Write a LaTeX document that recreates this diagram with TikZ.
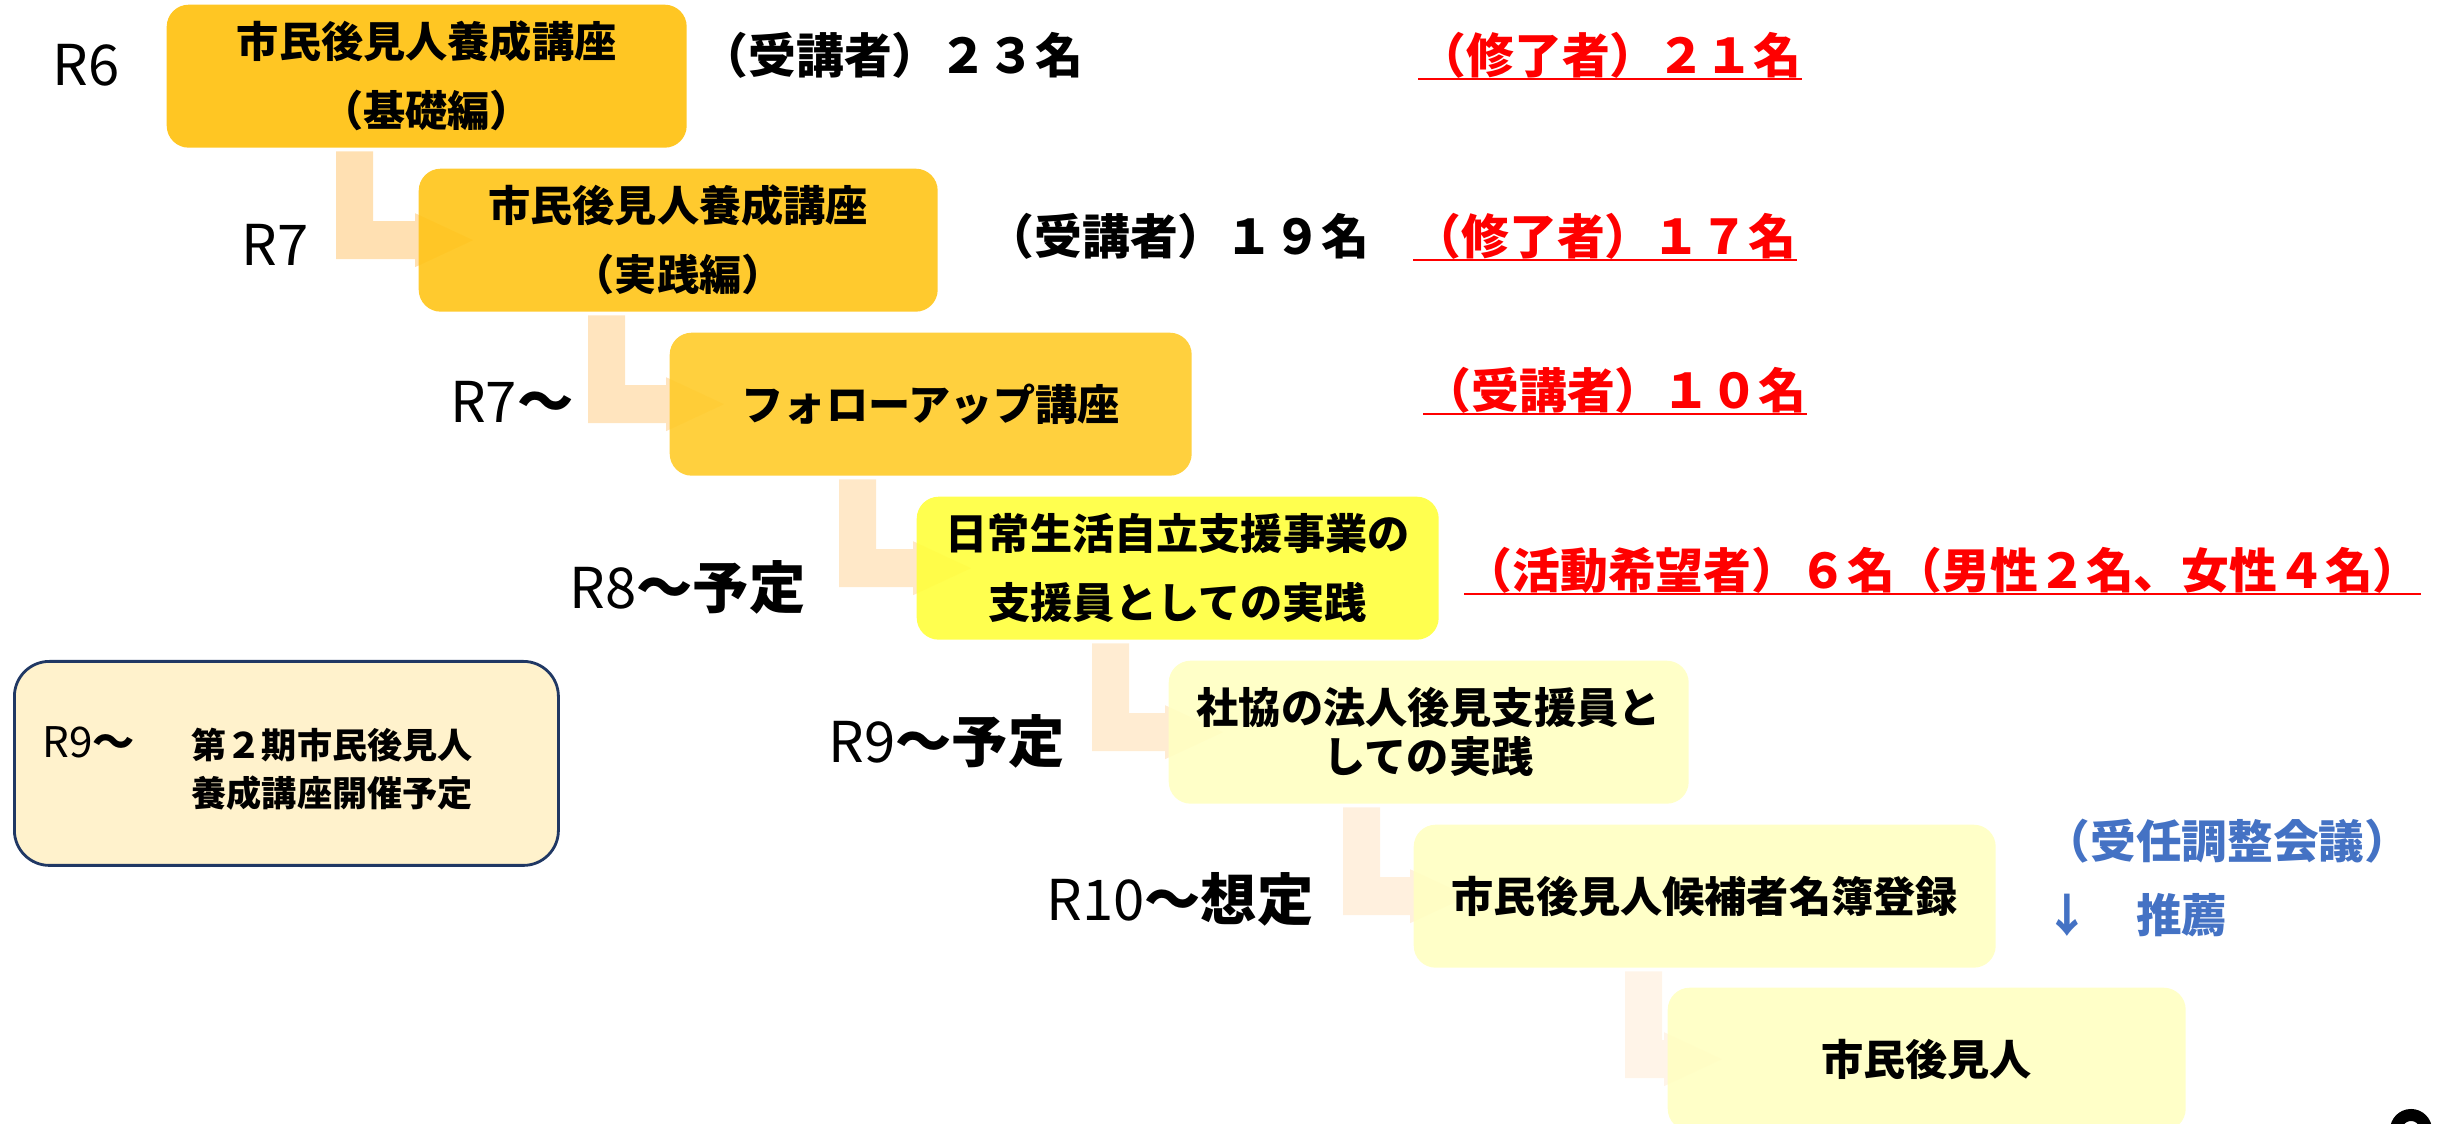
\documentclass[tikz,border=0pt]{standalone}
\usepackage{fontspec}
\setmainfont{Noto Sans CJK JP}
\usetikzlibrary{calc,backgrounds}
\definecolor{gold1}{RGB}{255,192,11}
\definecolor{gold2}{RGB}{255,196,23}
\definecolor{gold3}{RGB}{255,203,41}
\definecolor{yel1}{RGB}{255,255,60}
\definecolor{yel2}{RGB}{255,255,194}
\definecolor{arr1}{RGB}{255,224,178}
\definecolor{arr2}{RGB}{255,228,190}
\definecolor{arr3}{RGB}{255,232,200}
\definecolor{arr4}{RGB}{255,236,210}
\definecolor{arr5}{RGB}{255,240,222}
\definecolor{arr6}{RGB}{255,244,232}
\definecolor{navy}{RGB}{32,56,100}
\definecolor{cream}{RGB}{255,242,204}
\definecolor{blue1}{RGB}{68,114,196}

\begin{document}
\begin{tikzpicture}[x=1cm,y=-1cm,
  box/.style={rounded corners=0.22cm,anchor=north west,minimum height=1.43cm,align=center,inner sep=0pt,fill opacity=0.9,text opacity=1,font=\fontsize{12}{19.6}\selectfont\bfseries},
  when/.style={anchor=east,inner sep=0pt,font=\fontsize{16}{18}\selectfont\bfseries},
  count/.style={anchor=west,inner sep=0pt,font=\fontsize{13.6}{16}\selectfont\bfseries},
  done/.style={count,text=red},
  uline/.style={red,line width=0.6pt}]
\useasboundingbox (0,0) rectangle (24.48,11.24);
\node[box,fill=gold1,minimum width=5.20cm] (b1) at (1.66,0.04) {市民後見人養成講座\\（基礎編）};
\node[box,fill=gold2,minimum width=5.19cm] (b2) at (4.18,1.68) {市民後見人養成講座\\（実践編）};
\node[box,fill=gold3,minimum width=5.22cm] (b3) at (6.69,3.32) {フォローアップ講座};
\node[box,fill=yel1,minimum width=5.22cm] (b4) at (9.16,4.96) {日常生活自立支援事業の\\支援員としての実践};
\node[box,fill=yel2,minimum width=5.20cm,font=\fontsize{12}{14}\selectfont\bfseries] (b5) at (11.68,6.60) {社協の法人後見支援員と\\しての実践};
\node[box,fill=yel2,minimum width=5.82cm] (b6) at (14.13,8.24) {市民後見人候補者名簿登録};
\node[box,fill=yel2,minimum width=5.18cm] (b7) at (16.67,9.87) {市民後見人};
\begin{scope}[on background layer]
\foreach \src/\dst/\dx/\col in {b1/b2/1.70cm/arr1,b2/b3/1.70cm/arr2,b3/b4/1.70cm/arr3,b4/b5/1.76cm/arr4,b5/b6/1.75cm/arr5,b6/b7/2.12cm/arr6}
  \fill[\col] let \p1=(\src.south west), \p2=(\dst.west) in
    (\x1+\dx,\y1-0.03cm) -- (\x1+\dx+0.37cm,\y1-0.03cm) -- (\x1+\dx+0.37cm,\y2+0.19cm)
    -- (\x2-0.03cm,\y2+0.19cm) -- (\x2-0.03cm,\y2+0.27cm) -- (\x2+0.55cm,\y2)
    -- (\x2-0.03cm,\y2-0.27cm) -- (\x2-0.03cm,\y2-0.19cm) -- (\x1+\dx,\y2-0.19cm) -- cycle;
\end{scope}
\node[when] (r6) at (1.20,0.65) {\textmd{R6}};
\node[when] (r7) at (3.09,2.45) {\textmd{R7}};
\node[when] (r7b) at (5.74,4.02) {\textmd{R7}～};
\node[when] (r8) at (8.06,5.87) {\textmd{R8}～予定};
\node[when] (r9) at (10.65,7.41) {\textmd{R9}～予定};
\node[when] (r10) at (13.14,8.99) {\textmd{R10}～想定};
\node[count] (n1) at (7.00,0.55) {（受講者）２３名};
\node[done] (d1) at (14.18,0.55) {（修了者）２１名};
\node[count] (n2) at (9.86,2.36) {（受講者）１９名};
\node[done] (d2) at (14.13,2.36) {（修了者）１７名};
\node[done] (d3) at (14.23,3.90) {（受講者）１０名};
\node[done] (d4) at (14.64,5.70) {（活動希望者）６名（男性２名、女性４名）};
\foreach \n in {d1,d2,d3,d4} \draw[uline] (\n.south west) -- (\n.south east);
\node[anchor=west,align=left,inner sep=0pt,text=blue1,font=\fontsize{13}{20.8}\selectfont\bfseries] (meet) at (20.44,8.78) {（受任調整会議）\\↓　推薦};
\node[draw=navy,line width=0.8pt,fill=cream,rounded corners=0.35cm,minimum width=5.44cm,minimum height=2.04cm,anchor=north west] (plan) at (0.13,6.60) {};
\node[anchor=west,inner sep=0pt,font=\fontsize{12}{14}\selectfont\bfseries] (r9b) at (0.42,7.42) {\textmd{R9}～};
\node[anchor=west,align=left,inner sep=0pt,font=\fontsize{10}{13.7}\selectfont\bfseries] (next) at (1.91,7.69) {第２期市民後見人\\養成講座開催予定};
\draw[line width=0.12cm] (24.11,11.30) circle[radius=0.15];
\end{tikzpicture}
\end{document}
